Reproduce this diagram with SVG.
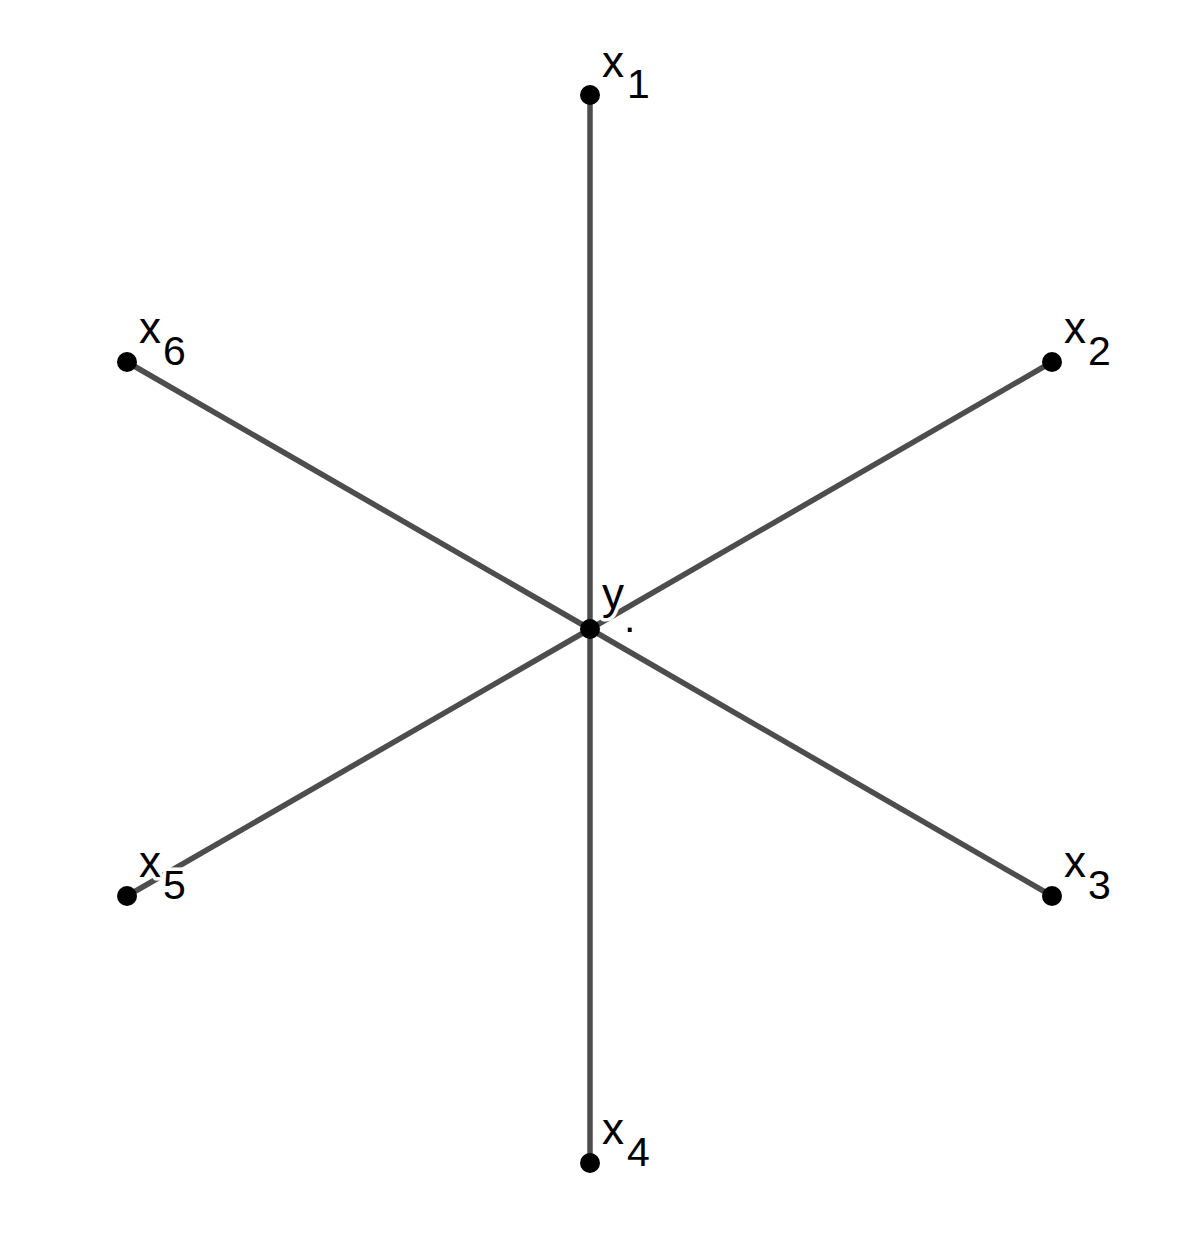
<svg xmlns="http://www.w3.org/2000/svg" width="1185" height="1233" viewBox="0 0 1185 1233">
<style>
.edge{stroke:#4d4d4d;stroke-width:5.5;fill:none}
.pt{fill:#000}
.lbl{font-family:"Liberation Sans",Arial,sans-serif;fill:#000;stroke:#fff;stroke-width:7;paint-order:stroke;stroke-linejoin:round}
.main{font-size:44px}
.sub{font-size:41px}
</style>
<rect width="1185" height="1233" fill="#fff"/>
<g id="connectors">
<line class="edge" x1="590" y1="629" x2="590" y2="95"/>
<line class="edge" x1="590" y1="629" x2="1052" y2="362"/>
<line class="edge" x1="590" y1="629" x2="1052" y2="896"/>
<line class="edge" x1="590" y1="629" x2="590" y2="1163"/>
<line class="edge" x1="590" y1="629" x2="127" y2="896"/>
<line class="edge" x1="590" y1="629" x2="127" y2="362"/>
</g>
<g id="x1"><circle class="pt" cx="590" cy="95" r="10"/><text class="lbl main" x="602" y="77">x</text><text class="lbl sub" x="627" y="98">1</text></g>
<g id="x2"><circle class="pt" cx="1052" cy="362" r="10"/><text class="lbl main" x="1064" y="343">x</text><text class="lbl sub" x="1088" y="365">2</text></g>
<g id="x3"><circle class="pt" cx="1052" cy="896" r="10"/><text class="lbl main" x="1064" y="877">x</text><text class="lbl sub" x="1088" y="899">3</text></g>
<g id="x4"><circle class="pt" cx="590" cy="1163" r="10"/><text class="lbl main" x="602" y="1144">x</text><text class="lbl sub" x="627" y="1166">4</text></g>
<g id="x5"><circle class="pt" cx="127" cy="896" r="10"/><text class="lbl main" x="139" y="877">x</text><text class="lbl sub" x="163" y="899">5</text></g>
<g id="x6"><circle class="pt" cx="127" cy="362" r="10"/><text class="lbl main" x="139" y="343">x</text><text class="lbl sub" x="163" y="365">6</text></g>
<g id="y"><circle class="pt" cx="590" cy="629" r="10"/><text class="lbl main" x="602" y="609">y</text><text class="lbl sub" x="624" y="632">.</text></g>
</svg>
